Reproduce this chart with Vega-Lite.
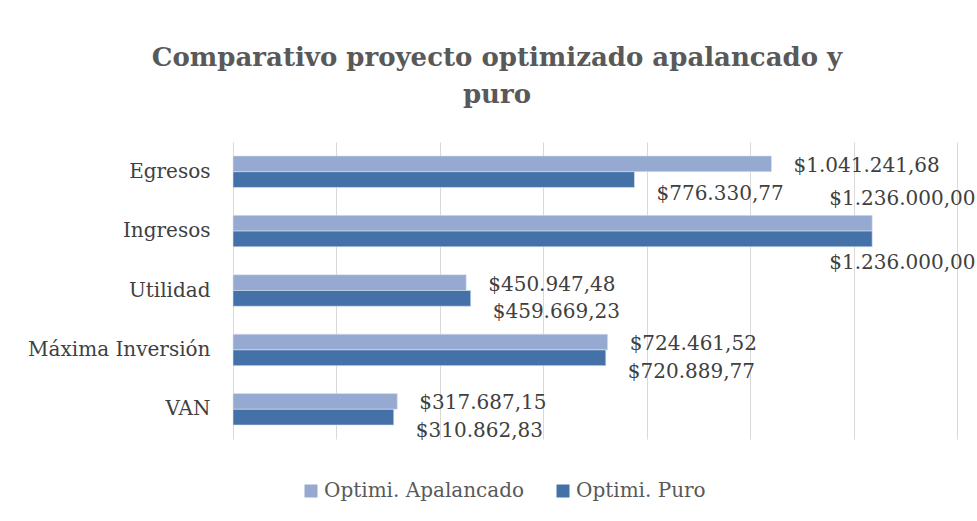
{
  "$schema": "https://vega.github.io/schema/vega-lite/v6.json",
  "autosize": "none",
  "width": 724,
  "height": 297,
  "padding": {"top": 142, "left": 233, "right": 20, "bottom": 82},
  "background": "white",
  "title": {
    "text": ["Comparativo proyecto optimizado apalancado y", "puro"],
    "font": "DejaVu Serif",
    "fontSize": 26,
    "fontWeight": "bold",
    "color": "#595959",
    "anchor": "middle",
    "dx": -98,
    "lineHeight": 37,
    "offset": 34
  },
  "data": {
    "values": [
      {"categoria": "Egresos ", "serie": "Optimi. Apalancado", "valor": 1041241.68},
      {"categoria": "Egresos ", "serie": "Optimi. Puro", "valor": 776330.77},
      {"categoria": "Ingresos", "serie": "Optimi. Apalancado", "valor": 1236000.00},
      {"categoria": "Ingresos", "serie": "Optimi. Puro", "valor": 1236000.00},
      {"categoria": "Utilidad", "serie": "Optimi. Apalancado", "valor": 450947.48},
      {"categoria": "Utilidad", "serie": "Optimi. Puro", "valor": 459669.23},
      {"categoria": "Máxima Inversión", "serie": "Optimi. Apalancado", "valor": 724461.52},
      {"categoria": "Máxima Inversión", "serie": "Optimi. Puro", "valor": 720889.77},
      {"categoria": "VAN", "serie": "Optimi. Apalancado", "valor": 317687.15},
      {"categoria": "VAN", "serie": "Optimi. Puro", "valor": 310862.83}
    ]
  },
  "encoding": {
    "y": {
      "field": "categoria",
      "type": "nominal",
      "sort": ["Egresos ", "Ingresos", "Utilidad", "Máxima Inversión", "VAN"],
      "scale": {"paddingInner": 0.47, "paddingOuter": 0.235},
      "axis": {
        "title": null,
        "domain": false,
        "ticks": false,
        "labelPadding": 23,
        "labelLimit": 400,
        "labelFont": "DejaVu Serif",
        "labelFontSize": 20,
        "labelColor": "#404040"
      }
    },
    "yOffset": {"field": "serie", "type": "nominal", "sort": ["Optimi. Apalancado", "Optimi. Puro"]},
    "x": {
      "field": "valor",
      "type": "quantitative",
      "scale": {"domain": [0, 1400000], "nice": false},
      "axis": {
        "title": null,
        "labels": false,
        "ticks": false,
        "domain": false,
        "grid": true,
        "gridColor": "#d9d9d9",
        "gridWidth": 1,
        "values": [0, 200000, 400000, 600000, 800000, 1000000, 1200000, 1400000]
      }
    }
  },
  "layer": [
    {
      "mark": {"type": "bar", "stroke": "#dce4f0", "strokeWidth": 0.6},
      "encoding": {
        "color": {
          "field": "serie",
          "type": "nominal",
          "sort": ["Optimi. Apalancado", "Optimi. Puro"],
          "scale": {"domain": ["Optimi. Apalancado", "Optimi. Puro"], "range": ["#95A9D1", "#4472A8"]},
          "legend": {
            "title": null,
            "orient": "none",
            "legendX": 68,
            "legendY": 339,
            "direction": "horizontal",
            "symbolType": "square",
            "symbolSize": 169,
            "symbolStrokeWidth": 0,
            "labelFont": "DejaVu Serif",
            "labelFontSize": 20,
            "labelColor": "#595959",
            "labelOffset": 3,
            "columnPadding": 28,
            "labelLimit": 400
          }
        }
      }
    },
    {
      "transform": [{"filter": "datum.categoria !== 'Ingresos' && datum.serie === 'Optimi. Apalancado'"}],
      "mark": {"type": "text", "align": "left", "baseline": "middle", "dx": 22, "dy": 2, "font": "DejaVu Serif", "fontSize": 20, "color": "#404040"},
      "encoding": {"text": {"field": "valor", "type": "quantitative", "format": "$,.2f"}}
    },
    {
      "transform": [{"filter": "datum.categoria !== 'Ingresos' && datum.serie === 'Optimi. Puro'"}],
      "mark": {"type": "text", "align": "left", "baseline": "middle", "dx": 22, "dy": 14, "font": "DejaVu Serif", "fontSize": 20, "color": "#404040"},
      "encoding": {"text": {"field": "valor", "type": "quantitative", "format": "$,.2f"}}
    },
    {
      "transform": [{"filter": "datum.categoria === 'Ingresos' && datum.serie === 'Optimi. Apalancado'"}],
      "mark": {"type": "text", "align": "left", "baseline": "middle", "dx": -43, "dy": -24, "font": "DejaVu Serif", "fontSize": 20, "color": "#404040"},
      "encoding": {"text": {"field": "valor", "type": "quantitative", "format": "$,.2f"}}
    },
    {
      "transform": [{"filter": "datum.categoria === 'Ingresos' && datum.serie === 'Optimi. Puro'"}],
      "mark": {"type": "text", "align": "left", "baseline": "middle", "dx": -43, "dy": 24, "font": "DejaVu Serif", "fontSize": 20, "color": "#404040"},
      "encoding": {"text": {"field": "valor", "type": "quantitative", "format": "$,.2f"}}
    }
  ],
  "config": {
    "view": {"stroke": null},
    "locale": {
      "number": {"decimal": ",", "thousands": ".", "grouping": [3], "currency": ["$", ""]}
    }
  }
}
